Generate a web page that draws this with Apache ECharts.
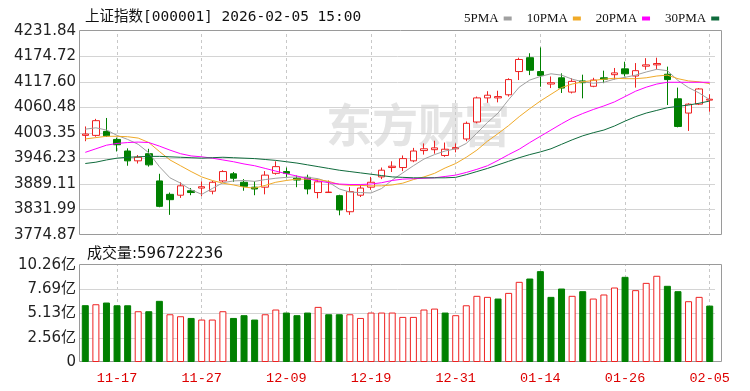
<!DOCTYPE html>
<html><head><meta charset="utf-8">
<script src="https://cdn.jsdelivr.net/npm/echarts@6/dist/echarts.min.js"></script>
<style>html,body{margin:0;padding:0;background:#fff}#c{width:750px;height:391px}</style>
</head><body><div id="c"></div>
<script>
const titleText = '上证指数[000001] 2026-02-05 15:00';
const volLabelPrefix = '成交量:';
const legendNames = ['5PMA', '10PMA', '20PMA', '30PMA'];
const dates = ['11-12','11-13','11-14','11-17','11-18','11-19','11-20','11-21','11-24','11-25','11-26','11-27','11-28',
  '12-01','12-02','12-03','12-04','12-05','12-08','12-09','12-10','12-11','12-12','12-15','12-16','12-17','12-18','12-19',
  '12-22','12-23','12-24','12-25','12-26','12-29','12-30','12-31','01-05','01-06','01-07','01-08','01-09','01-12','01-13',
  '01-14','01-15','01-16','01-19','01-20','01-21','01-22','01-23','01-26','01-27','01-28','01-29','01-30','02-02','02-03',
  '02-04','02-05'];
const dateTicks = ['11-17','11-27','12-09','12-19','12-31','01-14','01-26','02-05'];
const opens  = [3998,3998,4007,3989,3963,3941,3957,3896,3866,3864,3874,3880,3873,3896,3912,3893,3882,3882,3913,3917,3902,3904,3870,3870,3863,3827,3864,3882,3905,3926,3926,3941,3964,3966,3953,3968,3990,4028,4082,4082,4089,4141,4172,4141,4113,4127,4095,4120,4108,4127,4134,4147,4131,4153,4156,4135,4080,4048,4068,4077];
const closes = [4001,4031,3997,3977,3941,3949,3932,3839,3854,3885,3870,3883,3893,3917,3902,3884,3878,3909,3928,3913,3898,3878,3894,3871,3831,3872,3880,3893,3920,3929,3946,3963,3968,3970,3967,3971,4025,4082,4088,4085,4123,4168,4144,4132,4116,4104,4119,4116,4122,4124,4138,4136,4143,4156,4159,4123,4018,4068,4102,4079];
const lows   = [3985,3995,3995,3962,3930,3935,3928,3837,3820,3858,3864,3862,3866,3893,3894,3874,3864,3866,3910,3904,3882,3866,3857,3869,3819,3820,3860,3876,3900,3916,3918,3938,3955,3957,3950,3960,3985,4025,4071,4072,4085,4122,4133,4107,4104,4093,4092,4081,4106,4115,4123,4130,4105,4145,4146,4066,4016,4008,4066,4051];
const highs  = [4018,4035,4037,3993,3969,3954,3968,3912,3870,3893,3880,3895,3896,3920,3916,3900,3895,3918,3940,3926,3908,3910,3900,3897,3865,3882,3887,3905,3926,3940,3953,3970,3980,3986,3982,3980,4029,4085,4097,4098,4126,4172,4182,4195,4130,4137,4126,4134,4127,4143,4149,4163,4160,4171,4172,4152,4105,4070,4104,4090];
const closeBeforeFirst = 4010;
const ma5  = [4012,4015,4010,3998,3989,3978,3959,3928,3903,3891,3876,3866,3879,3892,3896,3897,3895,3899,3902,3904,3905,3904,3901,3893,3878,3871,3870,3869,3879,3898,3914,3930,3945,3955,3963,3968,3980,4003,4027,4048,4078,4106,4122,4130,4136,4133,4124,4118,4115,4117,4124,4128,4133,4140,4146,4143,4121,4105,4093,4078];
const ma10 = [3990,3993,3996,3996,3995,3992,3982,3962,3943,3930,3917,3905,3897,3891,3887,3882,3880,3886,3893,3897,3900,3900,3899,3895,3888,3886,3886,3885,3885,3887,3891,3899,3905,3913,3925,3935,3949,3965,3985,4002,4020,4040,4058,4075,4090,4105,4113,4118,4121,4124,4126,4125,4125,4127,4131,4133,4125,4120,4118,4114];
const ma20 = [3960,3968,3976,3980,3982,3983,3982,3974,3965,3957,3952,3950,3947,3943,3939,3934,3930,3924,3918,3912,3907,3901,3896,3892,3889,3888,3888,3889,3892,3897,3900,3901,3902,3903,3906,3909,3915,3922,3930,3942,3955,3967,3982,3996,4010,4024,4037,4047,4056,4064,4073,4085,4097,4106,4113,4117,4117,4117,4117,4117];
const ma30 = [3935,3938,3943,3947,3949,3950,3951,3951,3950,3949,3948,3947,3948,3949,3948,3947,3946,3944,3942,3939,3936,3932,3928,3924,3920,3917,3914,3911,3908,3905,3904,3903,3903,3903,3903,3904,3910,3917,3924,3932,3940,3948,3955,3961,3968,3978,3988,3997,4004,4010,4019,4030,4040,4048,4054,4060,4063,4066,4070,4075];
// volume in 亿 (1e8) shares
const volumes = [6.01,6.11,6.29,6.00,6.00,5.37,5.37,6.47,5.05,4.84,4.66,4.49,4.49,5.37,4.66,4.95,4.49,5.05,5.55,5.23,4.95,5.23,5.83,5.05,5.05,5.05,4.66,5.23,5.23,5.23,4.77,4.77,5.55,5.65,5.23,4.95,6.00,7.00,6.89,6.71,7.31,8.48,8.83,9.61,6.89,7.77,7.00,7.49,6.71,7.14,7.88,9.01,7.60,8.37,9.12,8.06,7.49,6.43,6.89,5.96722236];
const priceTicks = [3774.87,3831.99,3889.11,3946.23,4003.35,4060.48,4117.60,4174.72,4231.84];
const volTicks = [0,2.56,5.13,7.69,10.26];
const watermark = '东方财富';

const UP = '#ee2222', DOWN = '#008000';
const maColors = ['#a0a0a0', '#f0aa28', '#ff00ff', '#0f6b3c'];
const maData = [ma5, ma10, ma20, ma30];

const candleData = dates.map((d, i) => [opens[i], closes[i], lows[i], highs[i]]);
const volData = volumes.map((v, i) => {
  const prev = i ? closes[i - 1] : closeBeforeFirst;
  const up = closes[i] >= prev;
  return { value: v, itemStyle: up ? { color: '#fff', borderColor: UP, borderWidth: 1 } : { color: DOWN, borderColor: DOWN, borderWidth: 1 } };
});

const vLine = { type: [3, 3], color: '#c8c8c8', width: 1 };
const hLine = { type: 'solid', color: '#d4d4d4', width: 1 };
function gridLines(hTicks) {
  return {
    silent: true, z: 1, symbol: ['none', 'none'], label: { show: false }, animation: false,
    emphasis: { disabled: true },
    data: dateTicks.map(d => ({ xAxis: d, lineStyle: vLine }))
      .concat(hTicks.slice(1, -1).map(v => ({ yAxis: v, lineStyle: hLine })))
  };
}

const labelFont = '"DejaVu Sans","Noto Sans CJK SC"';
const chart = echarts.init(document.getElementById('c'), null, { renderer: 'canvas' });
chart.setOption({
  animation: false,
  backgroundColor: '#fff',
  title: [
    { text: titleText, left: 80, top: 5, textStyle: { fontFamily: '"DejaVu Sans Mono","Noto Sans CJK SC"', fontSize: 14.5, fontWeight: 'normal', color: '#111' } },
    { text: volLabelPrefix + Math.round(volumes[volumes.length - 1] * 1e8), left: 82, top: 242, textStyle: { fontFamily: labelFont, fontSize: 15, fontWeight: 'normal', color: '#111' } }
  ],
  legend: {
    left: 459, top: 7, itemGap: 15, align: 'right', icon: 'rect', itemWidth: 8, itemHeight: 4,
    textStyle: { fontFamily: '"Liberation Serif"', fontSize: 13, color: '#111' }, data: legendNames
  },
  graphic: [{ type: 'text', left: 326, top: 102, z: 0, silent: true,
    style: { text: watermark, font: 'bold 46px "Noto Sans CJK SC"', fill: '#e4e4e4', letterSpacing: 6 } }],
  grid: [
    { left: 80, top: 31, width: 635, height: 204 },
    { left: 80, top: 265, width: 635, height: 97 },
    { left: 79.5, top: 30.5, width: 642, height: 204, show: true, borderColor: '#9a9a9a', borderWidth: 1, backgroundColor: 'transparent' },
    { left: 79.5, top: 264.5, width: 642, height: 97, show: true, borderColor: '#9a9a9a', borderWidth: 1, backgroundColor: 'transparent' }
  ],
  xAxis: [
    { type: 'category', gridIndex: 0, data: dates, boundaryGap: true, axisLine: { show: false }, axisTick: { show: false }, axisLabel: { show: false }, splitLine: { show: false } },
    { type: 'category', gridIndex: 1, data: dates, boundaryGap: true, axisLine: { show: false }, axisTick: { show: false }, splitLine: { show: false },
      axisLabel: { interval: (i, v) => dateTicks.includes(v), color: '#dd0000', fontFamily: '"Liberation Mono"', fontSize: 13.5, margin: 9 } },
    { type: 'value', gridIndex: 2, show: false, min: 0, max: 1 },
    { type: 'value', gridIndex: 3, show: false, min: 0, max: 1 }
  ],
  yAxis: [
    { type: 'value', gridIndex: 0, min: priceTicks[0], max: priceTicks[priceTicks.length - 1], axisLine: { show: false }, axisTick: { show: false }, splitLine: { show: false },
      axisLabel: { customValues: priceTicks, formatter: v => v.toFixed(2), color: '#222', fontFamily: labelFont, fontSize: 15, margin: 4 } },
    { type: 'value', gridIndex: 1, min: volTicks[0], max: volTicks[volTicks.length - 1], axisLine: { show: false }, axisTick: { show: false }, splitLine: { show: false },
      axisLabel: { customValues: volTicks, formatter: v => v === 0 ? '0' : v.toFixed(2) + '亿', color: '#222', fontFamily: labelFont, fontSize: 15, margin: 4 } },
    { type: 'value', gridIndex: 2, show: false, min: 0, max: 1 },
    { type: 'value', gridIndex: 3, show: false, min: 0, max: 1 }
  ],
  series: [
    { type: 'line', xAxisIndex: 0, yAxisIndex: 0, data: [], z: 1, silent: true, markLine: gridLines(priceTicks) },
    { type: 'line', xAxisIndex: 1, yAxisIndex: 1, data: [], z: 1, silent: true, markLine: gridLines(volTicks) },
    { type: 'candlestick', name: '上证指数', xAxisIndex: 0, yAxisIndex: 0, data: candleData, barWidth: 7, z: 3,
      itemStyle: { color: '#fff', color0: DOWN, borderColor: UP, borderColor0: DOWN, borderWidth: 1 } },
    ...legendNames.map((n, k) => ({
      type: 'line', name: n, xAxisIndex: 0, yAxisIndex: 0, data: maData[k], symbol: 'none', showSymbol: false, z: 4,
      color: maColors[k], lineStyle: { width: 1, color: maColors[k] }, silent: true
    })),
    { type: 'bar', name: '成交量', xAxisIndex: 1, yAxisIndex: 1, data: volData, barWidth: 7, z: 3 }
  ]
});
</script></body></html>
